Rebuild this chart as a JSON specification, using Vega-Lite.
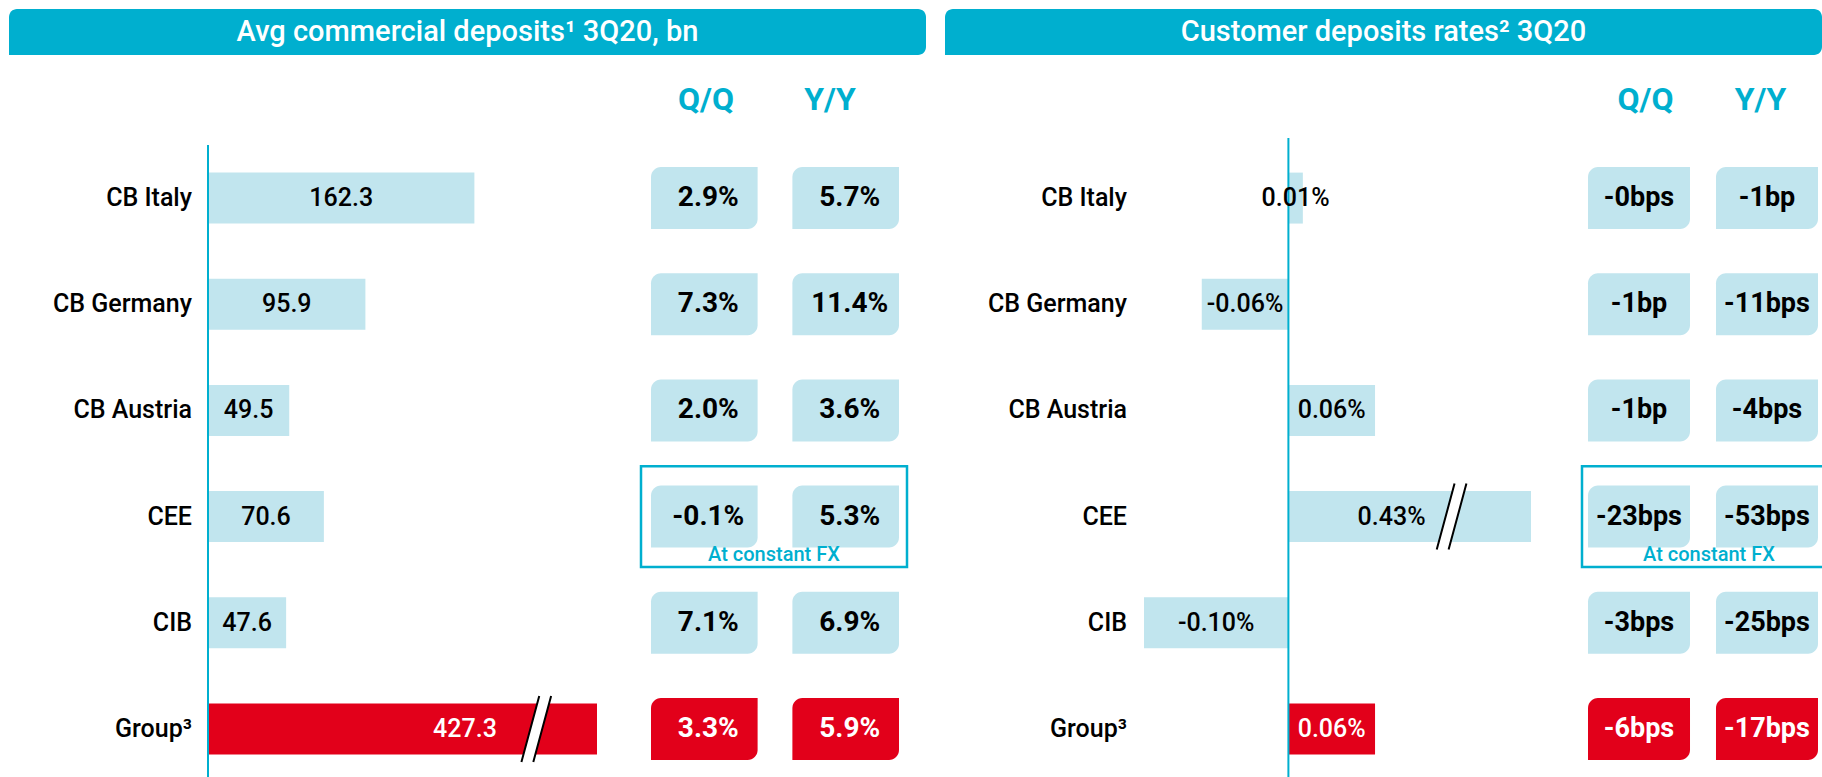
{
  "$schema": "https://vega.github.io/schema/vega-lite/v6.json",
  "width": 1822,
  "height": 777,
  "padding": 0,
  "autosize": {"type": "none"},
  "background": "#ffffff",
  "config": {
    "view": {"stroke": null},
    "font": "Roboto",
    "locale": {"number": {"decimal": ".", "thousands": ",", "grouping": [3], "currency": ["$", ""], "minus": "-"}}
  },
  "datasets": {
    "deposits": [
      {"seg": "CB Italy", "value": 162.3, "qq": "2.9%", "yy": "5.7%", "kind": "segment"},
      {"seg": "CB Germany", "value": 95.9, "qq": "7.3%", "yy": "11.4%", "kind": "segment"},
      {"seg": "CB Austria", "value": 49.5, "qq": "2.0%", "yy": "3.6%", "kind": "segment"},
      {"seg": "CEE", "value": 70.6, "qq": "-0.1%", "yy": "5.3%", "kind": "segment", "note": "At constant FX"},
      {"seg": "CIB", "value": 47.6, "qq": "7.1%", "yy": "6.9%", "kind": "segment"},
      {"seg": "Group³", "value": 427.3, "qq": "3.3%", "yy": "5.9%", "kind": "group"}
    ],
    "rates": [
      {"seg": "CB Italy", "value": 0.0001, "qq": "-0bps", "yy": "-1bp", "kind": "segment"},
      {"seg": "CB Germany", "value": -0.0006, "qq": "-1bp", "yy": "-11bps", "kind": "segment"},
      {"seg": "CB Austria", "value": 0.0006, "qq": "-1bp", "yy": "-4bps", "kind": "segment"},
      {"seg": "CEE", "value": 0.0043, "qq": "-23bps", "yy": "-53bps", "kind": "segment", "note": "At constant FX"},
      {"seg": "CIB", "value": -0.001, "qq": "-3bps", "yy": "-25bps", "kind": "segment"},
      {"seg": "Group³", "value": 0.0006, "qq": "-6bps", "yy": "-17bps", "kind": "group"}
    ],
    "headers": [
      {"panel": "L", "title": "Avg commercial deposits¹ 3Q20, bn"},
      {"panel": "R", "title": "Customer deposits rates² 3Q20"}
    ],
    "columns": [
      {"col": "qq", "label": "Q/Q"},
      {"col": "yy", "label": "Y/Y"}
    ]
  },
  "layer": [
    {
      "data": {"name": "headers"},
      "transform": [{"filter": "datum.panel === 'L'"}],
      "encoding": {
        "x": {"field": "panel", "type": "nominal", "axis": null, "scale": {"domain": ["L"], "range": [9, 926], "paddingInner": 0, "paddingOuter": 0}},
        "y": {"field": "panel", "type": "nominal", "axis": null, "scale": {"domain": ["L"], "range": [9, 55], "paddingInner": 0, "paddingOuter": 0}}
      },
      "layer": [
        {"mark": {"type": "rect", "color": "#00AFCF", "cornerRadiusTopLeft": 8, "cornerRadiusTopRight": 8, "cornerRadiusBottomRight": 8}},
        {"mark": {"type": "text", "color": "#ffffff", "fontSize": 29, "fontWeight": 500}, "encoding": {"text": {"field": "title"}}}
      ]
    },
    {
      "data": {"name": "headers"},
      "transform": [{"filter": "datum.panel === 'R'"}],
      "encoding": {
        "x": {"field": "panel", "type": "nominal", "axis": null, "scale": {"domain": ["R"], "range": [945, 1822], "paddingInner": 0, "paddingOuter": 0}},
        "y": {"field": "panel", "type": "nominal", "axis": null, "scale": {"domain": ["R"], "range": [9, 55], "paddingInner": 0, "paddingOuter": 0}}
      },
      "layer": [
        {"mark": {"type": "rect", "color": "#00AFCF", "cornerRadiusTopLeft": 8, "cornerRadiusTopRight": 8, "cornerRadiusBottomRight": 8}},
        {"mark": {"type": "text", "color": "#ffffff", "fontSize": 29, "fontWeight": 500}, "encoding": {"text": {"field": "title"}}}
      ]
    },
    {
      "data": {"name": "columns"},
      "mark": {"type": "text", "color": "#00AFCF", "fontSize": 32, "fontWeight": 700, "dx": -7},
      "encoding": {
        "x": {"field": "col", "type": "nominal", "axis": null, "scale": {"domain": ["qq", "yy"], "range": [651, 899], "paddingInner": 0.246, "paddingOuter": 0}},
        "y": {"datum": "head", "type": "nominal", "axis": null, "scale": {"domain": ["head"], "range": [80, 120]}},
        "text": {"field": "label"}
      }
    },
    {
      "data": {"name": "columns"},
      "mark": {"type": "text", "color": "#00AFCF", "fontSize": 32, "fontWeight": 700},
      "encoding": {
        "x": {"field": "col", "type": "nominal", "axis": null, "scale": {"domain": ["qq", "yy"], "range": [1588, 1818], "paddingInner": 0.203, "paddingOuter": 0}},
        "y": {"datum": "head", "type": "nominal", "axis": null, "scale": {"domain": ["head"], "range": [80, 120]}},
        "text": {"field": "label"}
      }
    },
    {
      "data": {"name": "deposits"},
      "mark": {"type": "bar"},
      "encoding": {
        "x": {"field": "value", "type": "quantitative", "axis": null, "scale": {"domain": [0, 237], "range": [208, 597], "clamp": true, "nice": false, "zero": false}},
        "y": {"field": "seg", "type": "nominal", "axis": null, "sort": null, "scale": {"domain": ["CB Italy", "CB Germany", "CB Austria", "CEE", "CIB", "Group³"], "range": [145, 782], "paddingInner": 0.52, "paddingOuter": 0.26}},
        "color": {"condition": {"test": "datum.kind === 'group'", "value": "#E2001A"}, "value": "#C1E5EE"}
      }
    },
    {
      "data": {"values": [{}]},
      "mark": {"type": "rule", "color": "#00AFCF", "strokeWidth": 2},
      "encoding": {
        "x": {"datum": 0, "type": "quantitative", "axis": null, "scale": {"domain": [0, 237], "range": [208, 597]}},
        "y": {"datum": 0, "type": "quantitative", "axis": null, "scale": {"domain": [0, 1], "range": [145, 777]}},
        "y2": {"datum": 1}
      }
    },
    {
      "data": {"name": "deposits"},
      "mark": {"type": "text", "fontSize": 25, "fontWeight": 500},
      "encoding": {
        "x": {"field": "value", "type": "quantitative", "axis": null, "scale": {"domain": [0, 313], "range": [208, 465], "clamp": true, "nice": false, "zero": false}},
        "y": {"field": "seg", "type": "nominal", "axis": null, "sort": null, "scale": {"domain": ["CB Italy", "CB Germany", "CB Austria", "CEE", "CIB", "Group³"], "range": [145, 782]}},
        "text": {"field": "value", "type": "quantitative", "format": ".1f"},
        "color": {"condition": {"test": "datum.kind === 'group'", "value": "#ffffff"}, "value": "#000000"}
      }
    },
    {
      "data": {"name": "deposits"},
      "mark": {"type": "text", "fontSize": 25, "fontWeight": 500, "align": "right", "dx": -16, "color": "#000000"},
      "encoding": {
        "x": {"datum": 0, "type": "quantitative", "axis": null, "scale": {"domain": [0, 237], "range": [208, 597]}},
        "y": {"field": "seg", "type": "nominal", "axis": null, "sort": null, "scale": {"domain": ["CB Italy", "CB Germany", "CB Austria", "CEE", "CIB", "Group³"], "range": [145, 782]}},
        "text": {"field": "seg"}
      }
    },
    {
      "data": {"name": "deposits"},
      "transform": [{"fold": ["qq", "yy"], "as": ["col", "label"]}],
      "encoding": {
        "x": {"field": "col", "type": "nominal", "axis": null, "scale": {"domain": ["qq", "yy"], "range": [651, 899], "paddingInner": 0.246, "paddingOuter": 0}},
        "y": {"field": "seg", "type": "nominal", "axis": null, "sort": null, "scale": {"domain": ["CB Italy", "CB Germany", "CB Austria", "CEE", "CIB", "Group³"], "range": [145, 782], "paddingInner": 0.416, "paddingOuter": 0.208}}
      },
      "layer": [
        {
          "mark": {"type": "rect", "cornerRadiusTopLeft": 10, "cornerRadiusBottomRight": 10},
          "encoding": {"color": {"condition": {"test": "datum.kind === 'group'", "value": "#E2001A"}, "value": "#C1E5EE"}}
        },
        {
          "mark": {"type": "text", "fontSize": 28, "fontWeight": 700, "dx": 4},
          "encoding": {
            "text": {"field": "label"},
            "color": {"condition": {"test": "datum.kind === 'group'", "value": "#ffffff"}, "value": "#000000"}
          }
        }
      ]
    },
    {
      "data": {"name": "deposits"},
      "transform": [{"filter": "datum.note"}],
      "encoding": {
        "x": {"datum": "fx", "type": "nominal", "axis": null, "scale": {"domain": ["fx"], "range": [641, 907], "paddingInner": 0, "paddingOuter": 0}},
        "y": {"field": "seg", "type": "nominal", "axis": null, "sort": null, "scale": {"domain": ["CB Italy", "CB Germany", "CB Austria", "CEE", "CIB", "Group³"], "range": [145, 782], "paddingInner": 0.05, "paddingOuter": 0.025}}
      },
      "layer": [
        {"mark": {"type": "rect", "filled": false, "color": "#00AFCF", "strokeWidth": 2.5}},
        {"mark": {"type": "text", "color": "#00AFCF", "fontSize": 20, "fontWeight": 500, "dy": 38}, "encoding": {"text": {"field": "note"}}}
      ]
    },
    {
      "data": {"name": "deposits"},
      "transform": [{"filter": "datum.value > 237"}],
      "encoding": {
        "x": {"datum": 200, "type": "quantitative", "axis": null, "scale": {"domain": [0, 237], "range": [208, 597]}},
        "y": {"field": "seg", "type": "nominal", "axis": null, "sort": null, "scale": {"domain": ["CB Italy", "CB Germany", "CB Austria", "CEE", "CIB", "Group³"], "range": [145, 782]}}
      },
      "layer": [
        {"mark": {"type": "point", "shape": "M -0.45 1 L 0.09 -1 L 0.45 -1 L -0.09 1 Z", "size": 4356, "filled": true, "fill": "#ffffff", "strokeWidth": 0, "opacity": 1}},
        {"mark": {"type": "point", "shape": "M -0.45 1 L 0.09 -1 M -0.09 1 L 0.45 -1", "size": 4356, "filled": false, "stroke": "#000000", "strokeWidth": 2, "opacity": 1}}
      ]
    },
    {
      "data": {"name": "rates"},
      "mark": {"type": "bar"},
      "encoding": {
        "x": {"field": "value", "type": "quantitative", "axis": null, "scale": {"domain": [-0.001, 0.00168], "range": [1144, 1531], "clamp": true, "nice": false, "zero": false}},
        "y": {"field": "seg", "type": "nominal", "axis": null, "sort": null, "scale": {"domain": ["CB Italy", "CB Germany", "CB Austria", "CEE", "CIB", "Group³"], "range": [145, 782], "paddingInner": 0.52, "paddingOuter": 0.26}},
        "color": {"condition": {"test": "datum.kind === 'group'", "value": "#E2001A"}, "value": "#C1E5EE"}
      }
    },
    {
      "data": {"values": [{}]},
      "mark": {"type": "rule", "color": "#00AFCF", "strokeWidth": 2},
      "encoding": {
        "x": {"datum": 0, "type": "quantitative", "axis": null, "scale": {"domain": [-0.001, 0.00168], "range": [1144, 1531]}},
        "y": {"datum": 0, "type": "quantitative", "axis": null, "scale": {"domain": [0, 1], "range": [138, 777]}},
        "y2": {"datum": 1}
      }
    },
    {
      "data": {"name": "rates"},
      "mark": {"type": "text", "fontSize": 25, "fontWeight": 500},
      "encoding": {
        "x": {"field": "value", "type": "quantitative", "axis": null, "scale": {"domain": [-0.001, 0.00143], "range": [1216.2, 1391.6], "clamp": true, "nice": false, "zero": false}},
        "y": {"field": "seg", "type": "nominal", "axis": null, "sort": null, "scale": {"domain": ["CB Italy", "CB Germany", "CB Austria", "CEE", "CIB", "Group³"], "range": [145, 782]}},
        "text": {"field": "value", "type": "quantitative", "format": ".2%"},
        "color": {"condition": {"test": "datum.kind === 'group'", "value": "#ffffff"}, "value": "#000000"}
      }
    },
    {
      "data": {"name": "rates"},
      "mark": {"type": "text", "fontSize": 25, "fontWeight": 500, "align": "right", "dx": -17, "color": "#000000"},
      "encoding": {
        "x": {"datum": -0.001, "type": "quantitative", "axis": null, "scale": {"domain": [-0.001, 0.00168], "range": [1144, 1531]}},
        "y": {"field": "seg", "type": "nominal", "axis": null, "sort": null, "scale": {"domain": ["CB Italy", "CB Germany", "CB Austria", "CEE", "CIB", "Group³"], "range": [145, 782]}},
        "text": {"field": "seg"}
      }
    },
    {
      "data": {"name": "rates"},
      "transform": [{"fold": ["qq", "yy"], "as": ["col", "label"]}],
      "encoding": {
        "x": {"field": "col", "type": "nominal", "axis": null, "scale": {"domain": ["qq", "yy"], "range": [1588, 1818], "paddingInner": 0.203, "paddingOuter": 0}},
        "y": {"field": "seg", "type": "nominal", "axis": null, "sort": null, "scale": {"domain": ["CB Italy", "CB Germany", "CB Austria", "CEE", "CIB", "Group³"], "range": [145, 782], "paddingInner": 0.416, "paddingOuter": 0.208}}
      },
      "layer": [
        {
          "mark": {"type": "rect", "cornerRadiusTopLeft": 10, "cornerRadiusBottomRight": 10},
          "encoding": {"color": {"condition": {"test": "datum.kind === 'group'", "value": "#E2001A"}, "value": "#C1E5EE"}}
        },
        {
          "mark": {"type": "text", "fontSize": 27, "fontWeight": 700},
          "encoding": {
            "text": {"field": "label"},
            "color": {"condition": {"test": "datum.kind === 'group'", "value": "#ffffff"}, "value": "#000000"}
          }
        }
      ]
    },
    {
      "data": {"name": "rates"},
      "transform": [{"filter": "datum.note"}],
      "encoding": {
        "x": {"datum": "fx", "type": "nominal", "axis": null, "scale": {"domain": ["fx"], "range": [1582, 1836], "paddingInner": 0, "paddingOuter": 0}},
        "y": {"field": "seg", "type": "nominal", "axis": null, "sort": null, "scale": {"domain": ["CB Italy", "CB Germany", "CB Austria", "CEE", "CIB", "Group³"], "range": [145, 782], "paddingInner": 0.05, "paddingOuter": 0.025}}
      },
      "layer": [
        {"mark": {"type": "rect", "filled": false, "color": "#00AFCF", "strokeWidth": 2.5}},
        {"mark": {"type": "text", "color": "#00AFCF", "fontSize": 20, "fontWeight": 500, "dy": 38}, "encoding": {"text": {"field": "note"}}}
      ]
    },
    {
      "data": {"name": "rates"},
      "transform": [{"filter": "datum.value > 0.00168"}],
      "encoding": {
        "x": {"datum": 0.00113, "type": "quantitative", "axis": null, "scale": {"domain": [-0.001, 0.00168], "range": [1144, 1531]}},
        "y": {"field": "seg", "type": "nominal", "axis": null, "sort": null, "scale": {"domain": ["CB Italy", "CB Germany", "CB Austria", "CEE", "CIB", "Group³"], "range": [145, 782]}}
      },
      "layer": [
        {"mark": {"type": "point", "shape": "M -0.45 1 L 0.09 -1 L 0.45 -1 L -0.09 1 Z", "size": 4356, "filled": true, "fill": "#ffffff", "strokeWidth": 0, "opacity": 1}},
        {"mark": {"type": "point", "shape": "M -0.45 1 L 0.09 -1 M -0.09 1 L 0.45 -1", "size": 4356, "filled": false, "stroke": "#000000", "strokeWidth": 2, "opacity": 1}}
      ]
    }
  ],
  "resolve": {"scale": {"x": "independent", "y": "independent"}}
}
